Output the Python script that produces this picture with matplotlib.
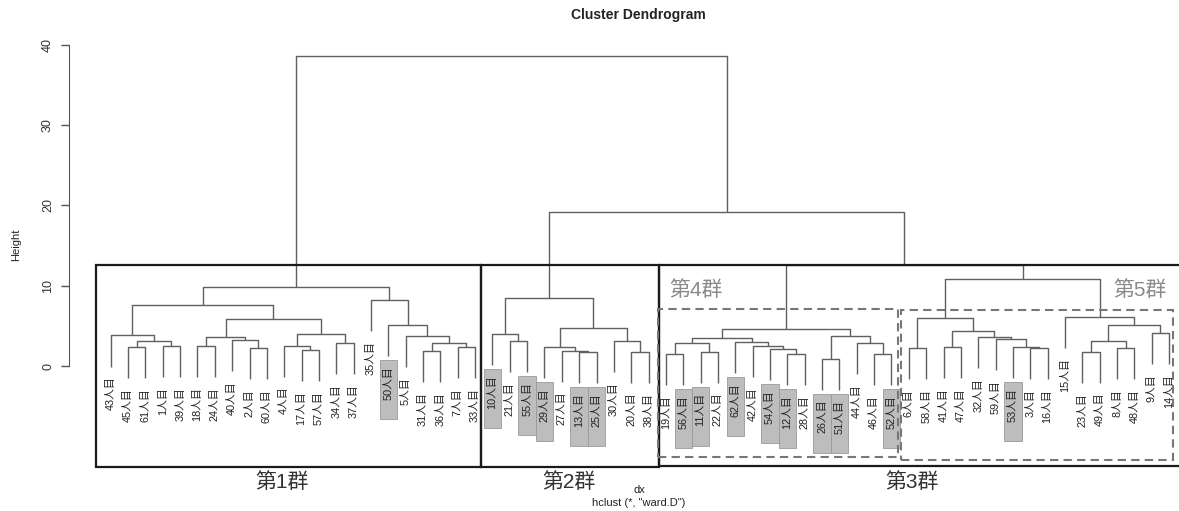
import matplotlib
matplotlib.use("Agg")
import matplotlib.pyplot as plt
from matplotlib.patches import Rectangle
from matplotlib.transforms import offset_copy

plt.rcParams['font.family'] = ['Liberation Sans', 'Noto Sans CJK JP', 'DejaVu Sans']

# hclust merge table (R convention): negative = observation, positive = earlier step
merge_a = [-45, -1, 1, -43, -18, -2, -40, 5, -17, -4, -34, 10, 8, 4, -31, -7, 15, -5, -50, -35, 14,
           -21, -10, -13, -27, -29, -20, -30, 26, 23,
           -19, -11, 31, -12, -54, -42, -62, 33, -26, -46, -44, 39, 38,
           -6, -41, -3, -53, -59, -32, 45, 44, -23, -8, 52, -9, 54, -15, 51,
           43, 30, 21]
merge_b = [-61, -39, 2, 3, -24, -60, 6, 7, -57, 9, -37, 11, 12, 13, -36, -33, 16, 17, 18, 19, 20,
           -55, 22, -25, 24, 25, -38, 27, 28, 29,
           -56, -22, 32, -28, 34, 35, 36, 37, -51, -52, 40, 41, 42,
           -58, -47, -16, 46, 47, 48, 49, 50, -49, -48, 53, -14, 55, 56, 57,
           58, 59, 60]
merge_h = [2.33, 2.45, 3.13, 3.8, 2.45, 2.2, 3.2, 3.55, 2.0, 2.55, 2.83, 4.03, 5.8, 7.65,
           1.87, 2.4, 2.83, 3.74, 5.1, 8.2, 9.85,
           3.15, 3.98, 1.78, 1.91, 2.4, 1.78, 3.11, 4.77, 8.43,
           1.45, 1.78, 2.9, 1.45, 2.12, 2.49, 2.95, 3.45, 0.91, 1.45, 2.83, 3.77, 4.6,
           2.2, 2.4, 2.2, 2.37, 3.36, 3.65, 4.4, 6.0, 1.78, 2.2, 3.11, 4.07, 5.1, 6.14, 10.83,
           12.64, 19.18, 38.64]

highlighted = [50, 10, 55, 29, 13, 25, 56, 11, 62, 54, 12, 26, 51, 52, 53]

group_names = ['第1群', '第2群', '第3群']
sub_names = ['第4群', '第5群']

# pixel layout of the reference
W, H = 1179, 511
X0, DX = 110.7, 17.35   # first leaf pixel, leaf spacing
Y0, DY = 366.0, 8.03    # pixel of height 0, pixels per unit


def px_x(p):
    return 1 + (p - X0) / DX


def px_y(p):
    return (Y0 - p) / DY


fig = plt.figure(figsize=(W / 100, H / 100), dpi=100)
ax = fig.add_axes([0, 0, 1, 1])
ax.set_xlim(px_x(0), px_x(W))
ax.set_ylim(px_y(H), px_y(0))


def leaves(node):
    if node < 0:
        return [-node]
    return leaves(merge_a[node - 1]) + leaves(merge_b[node - 1])


order = leaves(len(merge_h))
leaf_x = {lf: i + 1 for i, lf in enumerate(order)}
hang = 0.1 * max(merge_h)

node_x = {}
leaf_end = {}
for k in range(len(merge_h)):
    h = merge_h[k]
    pts = []
    for c in (merge_a[k], merge_b[k]):
        if c < 0:
            cx, cy = leaf_x[-c], h - hang
            leaf_end[-c] = cy
        else:
            cx, cy = node_x[c], merge_h[c - 1]
        pts.append((cx, cy))
    (xa, ya), (xb, yb) = pts
    node_x[k + 1] = (xa + xb) / 2
    ax.plot([xa, xa, xb, xb], [ya, h, h, yb], color='#606060', lw=1.0,
            solid_capstyle='butt')

# leaf labels
trans = offset_copy(ax.transData, fig=fig, y=-10, units='dots')
for lf in order:
    x, y = leaf_x[lf], leaf_end[lf]
    if lf in highlighted:
        ax.add_patch(Rectangle((x - 0.5, y - 63 / DY), 1, 59 / DY,
                               facecolor='#bdbdbd', edgecolor='#9a9a9a', lw=0.6, zorder=1))
    ax.text(x, y, f'{lf}人目', rotation=90, ha='center', va='top', fontsize=7.8,
            color='#222222', transform=trans, zorder=3)

# cluster boxes
solid = [(96, 481, 265, 467), (481, 659, 265, 467), (659, 1250, 265, 466)]
for l, r, t, b in solid:
    ax.add_patch(Rectangle((px_x(l), px_y(b)), px_x(r) - px_x(l), px_y(t) - px_y(b),
                           fill=False, edgecolor='#1a1a1a', lw=1.6, zorder=4))
dashed = [(658, 898, 308.5, 457.3), (901, 1173, 309.5, 460)]
for l, r, t, b in dashed:
    ax.add_patch(Rectangle((px_x(l), px_y(b)), px_x(r) - px_x(l), px_y(t) - px_y(b),
                           fill=False, edgecolor='#777777', lw=1.5,
                           linestyle=(0, (4, 2.5)), zorder=4))

for name, p in zip(group_names, [282, 569, 912]):
    ax.text(px_x(p), px_y(482), name, ha='center', va='center', fontsize=15, color='#333333')
for name, p in zip(sub_names, [696, 1140]):
    ax.text(px_x(p), px_y(290), name, ha='center', va='center', fontsize=15, color='#8a8a8a')

# y axis like R
for s in ['top', 'right', 'bottom']:
    ax.spines[s].set_visible(False)
ax.spines['left'].set_position(('data', px_x(69)))
ax.spines['left'].set_bounds(0, 40)
ax.spines['left'].set_color('#555555')
ax.set_yticks([0, 10, 20, 30, 40])
ax.set_xticks([])
ax.tick_params(axis='y', length=5.8, width=1, color='#555555', labelsize=9,
               labelcolor='#333333', pad=5)
for t in ax.get_yticklabels():
    t.set_rotation(90)
    t.set_va('center')

fig.text(638 / W, 1 - 15 / H, 'Cluster Dendrogram', ha='center', va='center',
         fontsize=10, fontweight='bold', color='#222222')
fig.text(639 / W, 1 - 490 / H, 'dx', ha='center', va='center', fontsize=8, color='#222222')
fig.text(639 / W, 1 - 503 / H, 'hclust (*, "ward.D")', ha='center', va='center',
         fontsize=8, color='#222222')
fig.text(16 / W, 1 - 245 / H, 'Height', rotation=90, ha='center', va='center',
         fontsize=8, color='#222222')

fig.savefig('out.png', dpi=100)
